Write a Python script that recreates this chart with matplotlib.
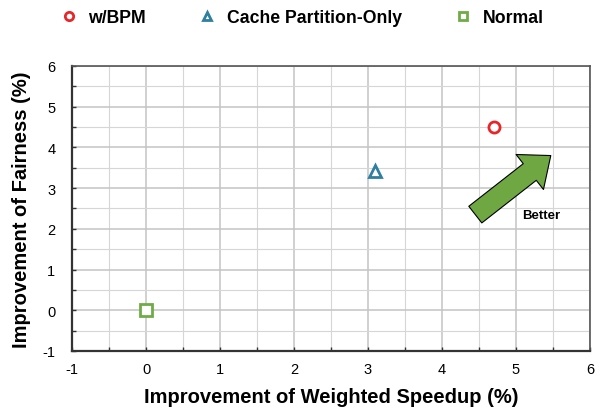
import matplotlib.pyplot as plt
from matplotlib.ticker import MultipleLocator

plt.rcParams["font.family"] = ["Liberation Sans", "DejaVu Sans"]
plt.rcParams["axes.unicode_minus"] = False

# data
series_names = ["w/BPM", "Cache Partition-Only", "Normal"]
speedup = [4.7, 3.1, 0.0]
fairness = [4.5, 3.42, 0.0]
markers = ["o", "^", "s"]
colors = ["#e8262a", "#2f7f9f", "#6fac46"]

arrow_start = (4.45, 2.35)
arrow_end = (5.47, 3.8)
better_pos = (5.34, 2.33)


def main():
    fig = plt.figure(figsize=(6.01, 4.10), dpi=100)
    ax = fig.add_axes([0.1198, 0.1415, 0.8619, 0.6951])

    for name, x, y, m, c in zip(series_names, speedup, fairness, markers, colors):
        ax.plot([x], [y], linestyle="none", marker=m, markersize=8,
                markerfacecolor="white", markeredgecolor=c,
                markeredgewidth=2, label=name, zorder=5)

    # --- стрелка "Better"
    ax.annotate("", xy=arrow_end, xytext=arrow_start,
                arrowprops=dict(arrowstyle="simple,head_length=1.2,head_width=2.0,tail_width=0.95",
                                facecolor="#6fa843", edgecolor="black",
                                linewidth=0.8, mutation_scale=16,
                                shrinkA=0, shrinkB=0),
                zorder=6)
    ax.text(better_pos[0], better_pos[1], "Better", fontsize=9.5,
            fontweight="bold", ha="center", va="center", zorder=6)

    ax.set_xlim(-1, 6)
    ax.set_ylim(-1, 6)
    ax.xaxis.set_major_locator(MultipleLocator(1))
    ax.yaxis.set_major_locator(MultipleLocator(1))
    ax.xaxis.set_minor_locator(MultipleLocator(0.5))
    ax.yaxis.set_minor_locator(MultipleLocator(0.5))
    ax.grid(which="major", color="#c4c4c4", linewidth=1.1)
    ax.grid(which="minor", color="#d6d6d6", linewidth=0.8)
    ax.set_axisbelow(True)

    ax.tick_params(which="both", direction="in", length=3, width=1,
                   color="#333333", labelsize=10.5)
    ax.tick_params(axis="y", which="major", pad=12)
    ax.tick_params(axis="x", which="major", pad=8)
    for side in ["left", "bottom"]:
        ax.spines[side].set_linewidth(1.6)
        ax.spines[side].set_color("#333333")
    for side in ["top", "right"]:
        ax.spines[side].set_linewidth(1.2)
        ax.spines[side].set_color("#555555")

    ax.set_xlabel("Improvement of Weighted Speedup (%)", fontsize=14.5,
                  fontweight="bold", labelpad=8)
    ax.set_ylabel("Improvement of Fairness (%)", fontsize=14.5,
                  fontweight="bold", labelpad=8)

    fig.legend(loc="upper left", bbox_to_anchor=(0.073, 1.015), ncol=3,
               frameon=False, markerscale=0.75,
               handlelength=1.0, handletextpad=0.6, columnspacing=3.0,
               prop={"weight": "bold", "size": 12.7})

    fig.savefig("out.png", dpi=100)
    plt.close(fig)


if __name__ == "__main__":
    main()
